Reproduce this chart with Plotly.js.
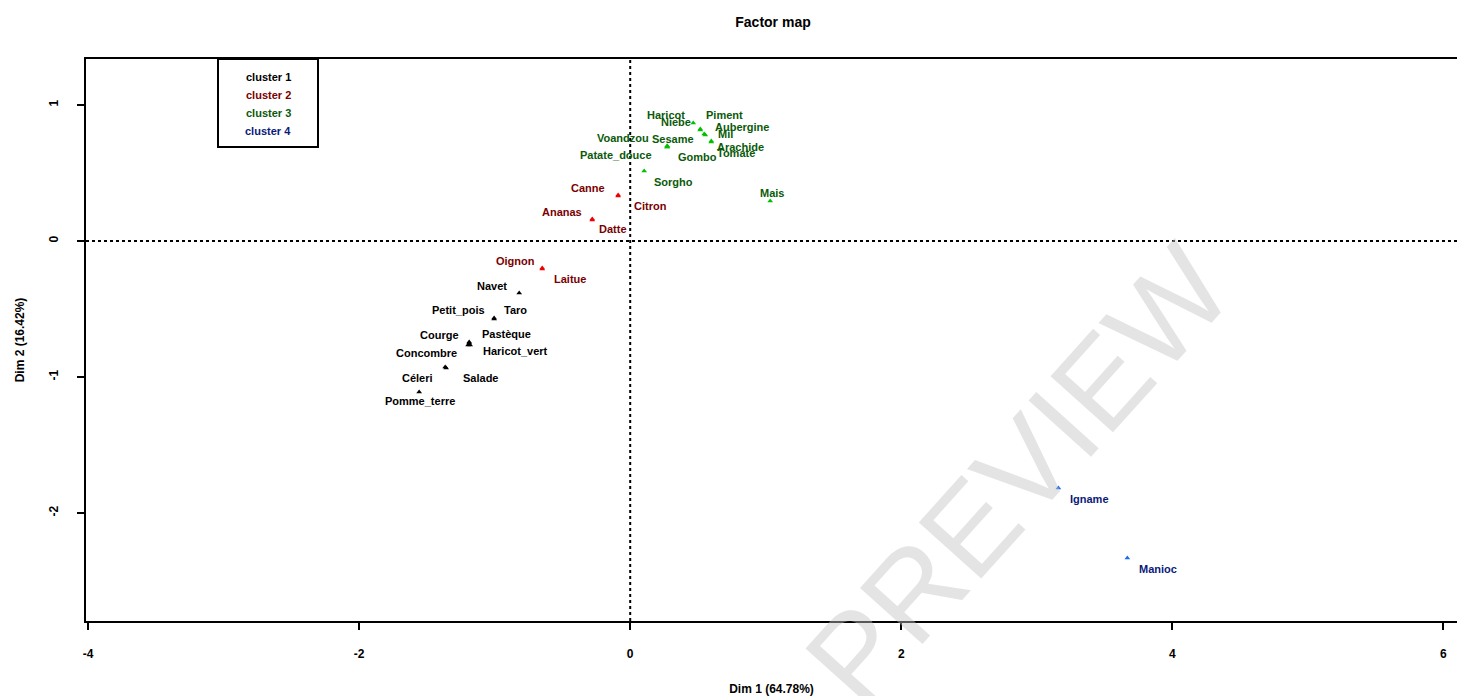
<!DOCTYPE html>
<html>
<head>
<meta charset="utf-8">
<script src="https://cdn.plot.ly/plotly-3.0.1.min.js"></script>
<style>html,body{margin:0;padding:0;background:#fff;}#chart{width:1457px;height:696px;}</style>
</head>
<body>
<div id="chart"></div>
<script>
// ---- data ----
const names = ["Navet","Petit_pois","Taro","Courge","Pastèque","Concombre","Haricot_vert","Céleri","Salade","Pomme_terre",
               "Canne","Citron","Ananas","Datte","Oignon","Laitue",
               "Haricot","Niebe","Piment","Aubergine","Mil","Arachide","Tomate","Voandzou","Sesame","Patate_douce","Gombo","Sorgho","Mais",
               "Igname","Manioc"];
const cluster = [1,1,1,1,1,1,1,1,1,1,
                 2,2,2,2,2,2,
                 3,3,3,3,3,3,3,3,3,3,3,3,3,
                 4,4];
const dim1 = [-0.819,-1.004,-1.004,-1.188,-1.188,-1.196,-1.181,-1.365,-1.358,-1.557,
              -0.089,-0.089,-0.280,-0.280,-0.649,-0.649,
              0.517,0.517,0.465,0.546,0.554,0.598,0.598,0.273,0.273,0.273,0.273,0.103,1.033,
              3.159,3.668];
const dim2 = [-0.382,-0.566,-0.574,-0.743,-0.750,-0.765,-0.765,-0.926,-0.934,-1.110,
              0.338,0.331,0.162,0.154,-0.199,-0.206,
              0.824,0.816,0.868,0.787,0.779,0.735,0.728,0.699,0.691,0.699,0.691,0.515,0.294,
              -1.816,-2.331];
const clusterNames = ["cluster 1","cluster 2","cluster 3","cluster 4"];
const xTicks = [-4,-2,0,2,4,6];
const yTicks = [-2,-1,0,1];

// ---- label placement offsets (px, screen) ----
const lblDx = [-27,-36,21,-30,37,-42,45,-28,34,1,
               -30,32,-30,21,-27,28,
               -34,-24,31,38,20,29,25,-44,6,-51,30,29,2,
               31,31];
const lblDy = [-7,-8,-9,-7,-9,8,6,11,10,9,
               -7,10,-7,9,-7,10,
               -14,-8,-8,-7,-1,6,11,-8,-8,9,10,11,-8,
               11,11];

// ---- styles ----
const pointColors = ["#000000","#ee0000","#00c000","#1a6cf0"];
const textColors  = ["#000000","#7a0000","#0a5a0a","#0a1a7a"];
const FONT = "Liberation Sans, Arial, sans-serif";

const traces = [];
for (let c = 1; c <= 4; c++) {
  const xs = [], ys = [];
  for (let i = 0; i < names.length; i++) if (cluster[i] === c) { xs.push(dim1[i]); ys.push(dim2[i]); }
  traces.push({
    type: "scatter", mode: "markers", x: xs, y: ys, name: clusterNames[c-1],
    marker: {color: pointColors[c-1], size: 5, symbol: "triangle-up"},
    showlegend: false, hoverinfo: "skip"
  });
}

const annotations = [];
// watermark (drawn first, underneath other annotations)
annotations.push({
  xref: "paper", yref: "paper", x: (1018-86)/1371, y: 1 - (475-59)/562,
  xanchor: "center", yanchor: "middle",
  showarrow: false, text: "PREVIEW", textangle: -48,
  font: {family: FONT, size: 122, color: "rgba(195,195,195,0.45)"}
});
for (let i = 0; i < names.length; i++) {
  annotations.push({
    x: dim1[i], y: dim2[i], xref: "x", yref: "y", text: "<b>" + names[i] + "</b>",
    showarrow: false, xshift: lblDx[i], yshift: -lblDy[i],
    font: {family: FONT, size: 11, color: textColors[cluster[i]-1]}
  });
}
// legend texts
for (let c = 0; c < 4; c++) {
  annotations.push({
    xref: "paper", yref: "paper", x: (268-86)/1371, y: 1 - (18 + 18*c)/562,
    xanchor: "center", yanchor: "middle", showarrow: false,
    text: "<b>" + clusterNames[c] + "</b>",
    font: {family: FONT, size: 11, color: textColors[c]}
  });
}

const layout = {
  width: 1457, height: 696,
  margin: {l: 86, r: 0, t: 59, b: 75, pad: 0},
  paper_bgcolor: "#fff", plot_bgcolor: "#fff",
  title: {text: "<b>Factor map</b>", x: (773)/1457, xanchor: "center", y: 1 - 22/696, yanchor: "middle",
          font: {family: FONT, size: 14, color: "#000"}},
  xaxis: {
    range: [-4.015, 6.10], tickvals: xTicks, ticktext: xTicks.map(v => "<b>" + v + "</b>"),
    ticks: "outside", ticklen: 7, tickwidth: 2, tickcolor: "#000", ticklabelstandoff: 14,
    showgrid: false, zeroline: false, showline: true, linecolor: "#000", linewidth: 2, mirror: true,
    tickfont: {family: FONT, size: 12, color: "#000"},
    title: {text: "<b>Dim 1 (64.78%)</b>", font: {family: FONT, size: 12, color: "#000"}, standoff: 26}
  },
  yaxis: {
    range: [-2.794, 1.338], tickvals: yTicks, ticktext: yTicks.map(v => "<b>" + v + "</b>"),
    ticks: "outside", ticklen: 7, tickwidth: 2, tickcolor: "#000", tickangle: -90, ticklabelstandoff: 14,
    showgrid: false, zeroline: false, showline: true, linecolor: "#000", linewidth: 2, mirror: true,
    tickfont: {family: FONT, size: 12, color: "#000"},
    title: {text: "<b>Dim 2 (16.42%)</b>", font: {family: FONT, size: 12, color: "#000"}, standoff: 20}
  },
  shapes: [
    {type: "line", xref: "x", yref: "paper", x0: 0, x1: 0, y0: 0, y1: 1, line: {color: "#000", width: 2, dash: "dot"}},
    {type: "line", xref: "paper", yref: "y", x0: 0, x1: 1, y0: 0, y1: 0, line: {color: "#000", width: 2, dash: "dot"}},
    {type: "rect", xref: "paper", yref: "paper", x0: (218-86)/1371, x1: (318-86)/1371, y0: 1 - (147-59)/562, y1: 1,
     line: {color: "#000", width: 2}, fillcolor: "rgba(255,255,255,0)"}
  ],
  annotations: annotations,
  showlegend: false
};

Plotly.newPlot("chart", traces, layout, {staticPlot: true, displayModeBar: false});
</script>
</body>
</html>
